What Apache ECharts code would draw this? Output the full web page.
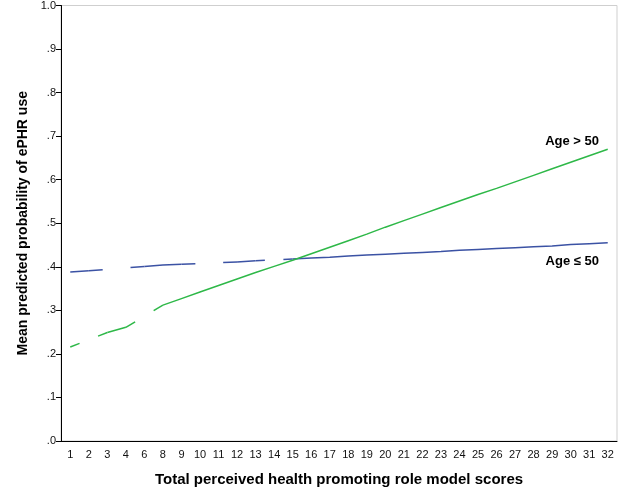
<!DOCTYPE html>
<html>
<head>
<meta charset="utf-8">
<script src="https://cdn.jsdelivr.net/npm/echarts@6/dist/echarts.min.js"></script>
<style>html,body{margin:0;padding:0;background:#fff;}#c{width:626px;height:501px;}</style>
</head>
<body>
<div id="c"></div>
<script>
const categories = ['1','2','3','4','6','8','9','10','11','12','13','14','15','16','17','18','19','20','21','22','23','24','25','26','27','28','29','30','31','32'];
const ageLE50 = [0.388,0.391,null,null,0.4005,0.404,0.406,null,null,0.411,0.414,null,0.418,0.420,0.422,0.425,0.427,0.429,0.431,0.433,0.435,0.438,0.440,0.442,0.444,0.446,0.448,0.451,0.453,0.455];
const ageGT50 = [0.216,null,0.249,0.261,null,0.312,0.327,0.342,0.357,0.372,0.387,0.401,0.415,0.430,0.445,0.460,0.475,0.491,0.506,0.521,0.536,0.551,0.566,0.580,0.595,0.610,0.625,0.640,0.655,0.670];
const yTicks = ['.0','.1','.2','.3','.4','.5','.6','.7','.8','.9','1.0'];

const FONT = "'Liberation Sans', Arial, sans-serif";
const BLUE = '#3b52a4';
const GREEN = '#2eb848';

function bridges(vals) {
  const out = [];
  let prev = -1;
  vals.forEach((v, i) => {
    if (v == null) return;
    if (prev >= 0 && i > prev + 1) out.push([prev, vals[prev], i, v]);
    prev = i;
  });
  return out;
}

function bridgeSeries(vals, color) {
  return {
    type: 'custom',
    silent: true,
    data: bridges(vals),
    encode: {x: [0, 2], y: [1, 3]},
    renderItem: function (params, api) {
      const a = api.coord([api.value(0), api.value(1)]);
      const b = api.coord([api.value(2), api.value(3)]);
      const q = 0.25;
      const dx = b[0] - a[0], dy = b[1] - a[1];
      const st = {stroke: color, lineWidth: 1.5};
      return {type: 'group', children: [
        {type: 'line', shape: {x1: a[0], y1: a[1], x2: a[0] + dx * q, y2: a[1] + dy * q}, style: st},
        {type: 'line', shape: {x1: b[0] - dx * q, y1: b[1] - dy * q, x2: b[0], y2: b[1]}, style: st}
      ]};
    }
  };
}

const chart = echarts.init(document.getElementById('c'), null, {renderer: 'canvas'});
chart.setOption({
  animation: false,
  backgroundColor: '#fff',
  grid: {left: 61, top: 5, right: 9, bottom: 60, show: true, borderColor: '#cfcfcf', borderWidth: 1, backgroundColor: 'transparent'},
  xAxis: {
    type: 'category',
    data: categories,
    boundaryGap: true,
    name: 'Total perceived health promoting role model scores',
    nameLocation: 'middle',
    nameGap: 31,
    nameTextStyle: {fontFamily: FONT, fontSize: 15, fontWeight: 'bold', color: '#000'},
    axisLine: {lineStyle: {color: '#000', width: 1}},
    axisTick: {alignWithLabel: true, length: 5, lineStyle: {color: '#000'}},
    axisLabel: {interval: 0, fontFamily: FONT, fontSize: 11, color: '#111', margin: 8},
    splitLine: {show: false}
  },
  yAxis: {
    type: 'value',
    min: 0, max: 1, interval: 0.1,
    name: 'Mean predicted probability of ePHR use',
    nameLocation: 'middle',
    nameGap: 30,
    nameRotate: 90,
    nameTextStyle: {fontFamily: FONT, fontSize: 14, fontWeight: 'bold', color: '#000'},
    axisLine: {show: true, lineStyle: {color: '#000', width: 1}},
    axisTick: {show: true, length: 5, lineStyle: {color: '#000'}},
    axisLabel: {fontFamily: FONT, fontSize: 11, color: '#111', margin: 5,
      formatter: function (v) { return yTicks[Math.round(v * 10)]; }},
    splitLine: {show: false}
  },
  series: [
    {type: 'line', name: 'Age ≤ 50', data: ageLE50, connectNulls: false, showSymbol: false, symbol: 'none',
      lineStyle: {color: BLUE, width: 1.5}, itemStyle: {color: BLUE}},
    {type: 'line', name: 'Age > 50', data: ageGT50, connectNulls: false, showSymbol: false, symbol: 'none',
      lineStyle: {color: GREEN, width: 1.5}, itemStyle: {color: GREEN}},
    bridgeSeries(ageLE50, BLUE),
    bridgeSeries(ageGT50, GREEN)
  ],
  graphic: [
    {type: 'text', right: 27, top: 135, style: {text: 'Age > 50', font: 'bold 13px ' + FONT, fill: '#000'}},
    {type: 'text', right: 27, top: 255, style: {text: 'Age ≤ 50', font: 'bold 13px ' + FONT, fill: '#000'}}
  ]
});
</script>
</body>
</html>
